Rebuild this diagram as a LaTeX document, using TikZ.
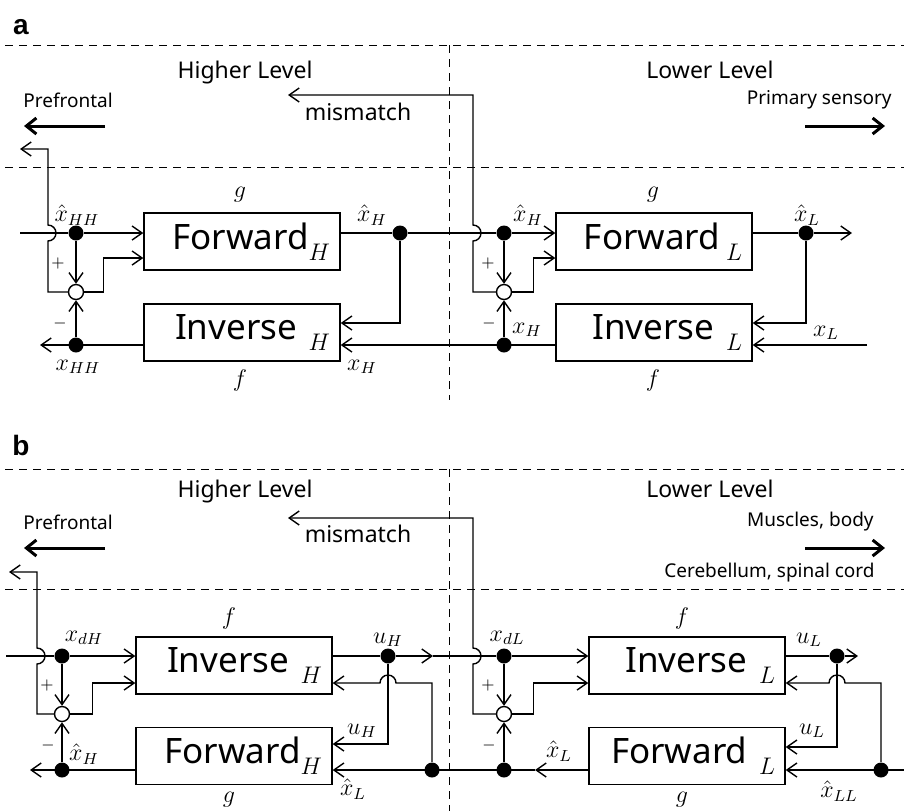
\documentclass[tikz,border=0pt]{standalone}
\usepackage{fontspec}
\setsansfont{Noto Sans}
\newfontfamily\panelfont{Liberation Sans}
\usetikzlibrary{arrows.meta, calc}

% big italic index under a block name
\newcommand{\blksub}[1]{\raisebox{-5.5pt}{\large$#1$}}

\begin{document}
\begin{tikzpicture}[
    x=0.5pt, y=-0.5pt,
    line width=0.7pt,
    block/.style={draw, minimum width=98pt, minimum height=28.5pt, text width=88pt, align=right, inner xsep=5pt, inner ysep=0pt, font=\sffamily\fontsize{17.5}{17.5}\selectfont},
    dot/.style={circle, fill=black, inner sep=0pt, minimum size=7.5pt},
    sumnode/.style={circle, draw, fill=white, inner sep=0pt, minimum size=7.5pt},
    sig/.style={-{Straight Barb[length=5pt, width=7pt]}},
    bigarrow/.style={-{Straight Barb[length=5pt, width=8pt]}, line width=1.5pt},
    divider/.style={dash pattern=on 4pt off 3pt, line width=0.5pt},
    lvl/.style={font=\sffamily\fontsize{11.5}{13}\selectfont},
    area/.style={font=\sffamily\fontsize{9.5}{11}\selectfont},
    var/.style={font=\large},
    sgn/.style={font=\footnotesize},
    panel/.style={font=\panelfont\bfseries\fontsize{14}{16}\selectfont}
]
\useasboundingbox (0,0) rectangle (904,811);

% ---------------- panel a ----------------
\node[panel] (pa) at (21,27) {a};
\draw[divider] (5,45) -- (904,45);
\draw[divider] (5,167) -- (904,167);
\draw[divider] (449,45) -- (449,400);
\node[lvl, anchor=base] (hiA) at (245,78) {Higher Level};
\node[lvl, anchor=base] (loA) at (710,78) {Lower Level};
\node[area, anchor=west] (pfA) at (16,100) {Prefrontal};
\node[area, anchor=east] (psA) at (899,100) {Primary sensory};
\draw[bigarrow] (105,126) -- (24,126);
\draw[bigarrow] (805,126) -- (885,126);
\node[lvl] (mmtA) at (358,112) {mismatch};

% blocks
\node[block] (FH) at (242,241.5) {Forward\blksub{H}};
\node[block] (IH) at (242,332.5) {Inverse~\blksub{H}};
\node[block] (FL) at (654,241.5) {Forward\,\blksub{L}};
\node[block] (IL) at (654,332.5) {Inverse~\blksub{L}};

% junctions
\node[dot] (xhHH) at (76,233) {};
\node[sumnode] (sumH) at (76,292) {};
\node[dot] (xHH) at (76,345) {};
\node[dot] (xhH) at (400,233) {};
\node[dot] (xhHb) at (504,233) {};
\node[sumnode] (sumL) at (504,292) {};
\node[dot] (xH) at (504,345) {};
\node[dot] (xhL) at (806,233) {};
\coordinate (hopHH) at (48,233);
\coordinate (hopM) at (473,233);
\coordinate (inA) at (20,233);
\coordinate (upA) at (20,149);
\coordinate (outHH) at (40,345);
\coordinate (mmA) at (288,95);
\coordinate (outL) at (852,233);
\coordinate (inxL) at (867,345);

% higher level loop
\draw (inA) -- (xhHH);
\draw[sig] (xhHH) -- (xhHH -| FH.west);
\draw[sig] (xhHH) -- (sumH);
\draw[sig] (sumH.east) -- ++(19.5,0) |- ([yshift=-8.25pt]FH.west);
\draw[sig] (sumH.west) -| ([yshift=-4pt]hopHH) arc[start angle=-90, end angle=90, radius=4pt] |- (upA);
\draw[sig] (xHH) -- (sumH);
\draw[sig] (IH.west |- xHH) -- (outHH);
\draw (FH.east |- xhH) -- (xhH) -- (xhHb);
\draw[sig] (xhH) |- ([yshift=4.75pt]IH.east);
\draw[sig] (IL.west |- xH) -- (IH.east |- xH);

% lower level loop
\draw[sig] (xhHb) -- (xhHb -| FL.west);
\draw[sig] (xhHb) -- (sumL);
\draw[sig] (xH) -- (sumL);
\draw[sig] (sumL.east) -- ++(21.5,0) |- ([yshift=-8.25pt]FL.west);
\draw[sig] (sumL.west) -| ([yshift=-4pt]hopM) arc[start angle=-90, end angle=90, radius=4pt] |- (mmA);
\draw (FL.east |- xhL) -- (xhL);
\draw[sig] (xhL) -- (outL);
\draw[sig] (xhL) |- ([yshift=4.75pt]IL.east);
\draw[sig] (inxL) -- (IL.east |- inxL);

% labels
\node[var] at (77,215) {$\hat{x}_{HH}$};
\node[var] at (78,367) {$x_{HH}$};
\node[sgn] at (58,263) {$+$};
\node[sgn] at (60,323) {$-$};
\node[var] at (240,195) {$g$};
\node[var] at (240,380) {$f$};
\node[var] at (372,215) {$\hat{x}_H$};
\node[var] at (362,367) {$x_H$};
\node[var] at (528,215) {$\hat{x}_H$};
\node[var] at (527,330) {$x_H$};
\node[sgn] at (488,263) {$+$};
\node[sgn] at (489,323) {$-$};
\node[var] at (653,195) {$g$};
\node[var] at (653,380) {$f$};
\node[var] at (807,215) {$\hat{x}_L$};
\node[var] at (826,333) {$x_L$};

% ---------------- panel b ----------------
\node[panel] (pb) at (21,445) {b};
\draw[divider] (5,469) -- (904,469);
\draw[divider] (5,589) -- (904,589);
\draw[divider] (449,469) -- (449,811);
\node[lvl, anchor=base] (hiB) at (245,497) {Higher Level};
\node[lvl, anchor=base] (loB) at (710,497) {Lower Level};
\node[area, anchor=west] (pfB) at (16,522) {Prefrontal};
\node[area, anchor=east] (mbB) at (881,522) {Muscles, body};
\node[area, anchor=east] (csB) at (882,573) {Cerebellum, spinal cord};
\draw[bigarrow] (105,548) -- (24,548);
\draw[bigarrow] (805,548) -- (885,548);
\node[lvl] (mmtB) at (358,534) {mismatch};

% blocks
\node[block] (IHb) at (234,665.5) {Inverse~\blksub{H}};
\node[block] (FHb) at (234,756) {Forward\blksub{H}};
\node[block] (ILb) at (687,665.5) {Inverse~\blksub{L}};
\node[block] (FLb) at (687,756) {Forward~\blksub{L}};

% junctions
\node[dot] (xdH) at (62,656) {};
\node[sumnode] (sumHb) at (62,714) {};
\node[dot] (xhHc) at (62,770) {};
\node[dot] (uH) at (388,656) {};
\node[dot] (xhLb) at (432,770) {};
\node[dot] (xdL) at (504,656) {};
\node[sumnode] (sumLb) at (504,714) {};
\node[dot] (xhLc) at (504,770) {};
\node[dot] (uL) at (837,656) {};
\node[dot] (xhLL) at (881,770) {};
\coordinate (inB) at (6,656);
\coordinate (hopHd) at (37,656);
\coordinate (upB) at (9,572);
\coordinate (outHd) at (30,770);
\coordinate (uHmid) at (433,656);
\coordinate (hopMb) at (473,656);
\coordinate (mmB) at (288,518);
\coordinate (hopUH) at (388,683);
\coordinate (hopUL) at (837,683);
\coordinate (xhLmid) at (535,770);
\coordinate (uLend) at (858,656);
\coordinate (inLL) at (904,770);

% higher level loop
\draw (inB) -- (xdH);
\draw[sig] (xdH) -- (xdH -| IHb.west);
\draw[sig] (xdH) -- (sumHb);
\draw[sig] (sumHb.east) -- ++(22.5,0) |- ([yshift=-8.75pt]IHb.west);
\draw[sig] (sumHb.west) -| ([yshift=-4pt]hopHd) arc[start angle=-90, end angle=90, radius=4pt] |- (upB);
\draw[sig] (xhHc) -- (sumHb);
\draw[sig] (FHb.west |- xhHc) -- (outHd);
\draw (IHb.east |- uH) -- (uH);
\draw[sig] (uH) -- (uHmid);
\draw (uHmid) -- (xdL);
\draw[sig] (uH) |- ([yshift=6pt]FHb.east);
\draw[sig] (xhLb) |- ([xshift=4pt]hopUH) arc[start angle=0, end angle=180, radius=4pt] -- ([yshift=-8.75pt]IHb.east);
\draw[sig] (xhLmid) -- (FHb.east |- xhLb);

% lower level loop
\draw[sig] (FLb.west |- xhLc) -- (xhLmid);
\draw[sig] (xdL) -- (xdL -| ILb.west);
\draw[sig] (xdL) -- (sumLb);
\draw[sig] (xhLc) -- (sumLb);
\draw[sig] (sumLb.east) -- ++(21.5,0) |- ([yshift=-8.75pt]ILb.west);
\draw[sig] (sumLb.west) -| ([yshift=-4pt]hopMb) arc[start angle=-90, end angle=90, radius=4pt] |- (mmB);
\draw (ILb.east |- uL) -- (uL);
\draw[sig] (uL) -- (uLend);
\draw[sig] (uL) |- ([yshift=4.5pt]FLb.east);
\draw[sig] (xhLL) |- ([xshift=4pt]hopUL) arc[start angle=0, end angle=180, radius=4pt] -- ([yshift=-8.75pt]ILb.east);
\draw[sig] (inLL) -- (FLb.east |- inLL);

% labels
\node[var] at (84,638) {$x_{dH}$};
\node[sgn] at (47,685) {$+$};
\node[sgn] at (48,745) {$-$};
\node[var] at (84,754) {$\hat{x}_H$};
\node[var] at (229,618) {$f$};
\node[var] at (229,800) {$g$};
\node[var] at (388,640) {$u_H$};
\node[var] at (362,731) {$u_H$};
\node[var] at (353,789) {$\hat{x}_L$};
\node[var] at (507,638) {$x_{dL}$};
\node[sgn] at (488,685) {$+$};
\node[sgn] at (489,745) {$-$};
\node[var] at (559,751) {$\hat{x}_L$};
\node[var] at (682,618) {$f$};
\node[var] at (682,800) {$g$};
\node[var] at (809,640) {$u_L$};
\node[var] at (812,731) {$u_L$};
\node[var] at (839,791) {$\hat{x}_{LL}$};
\end{tikzpicture}
\end{document}
